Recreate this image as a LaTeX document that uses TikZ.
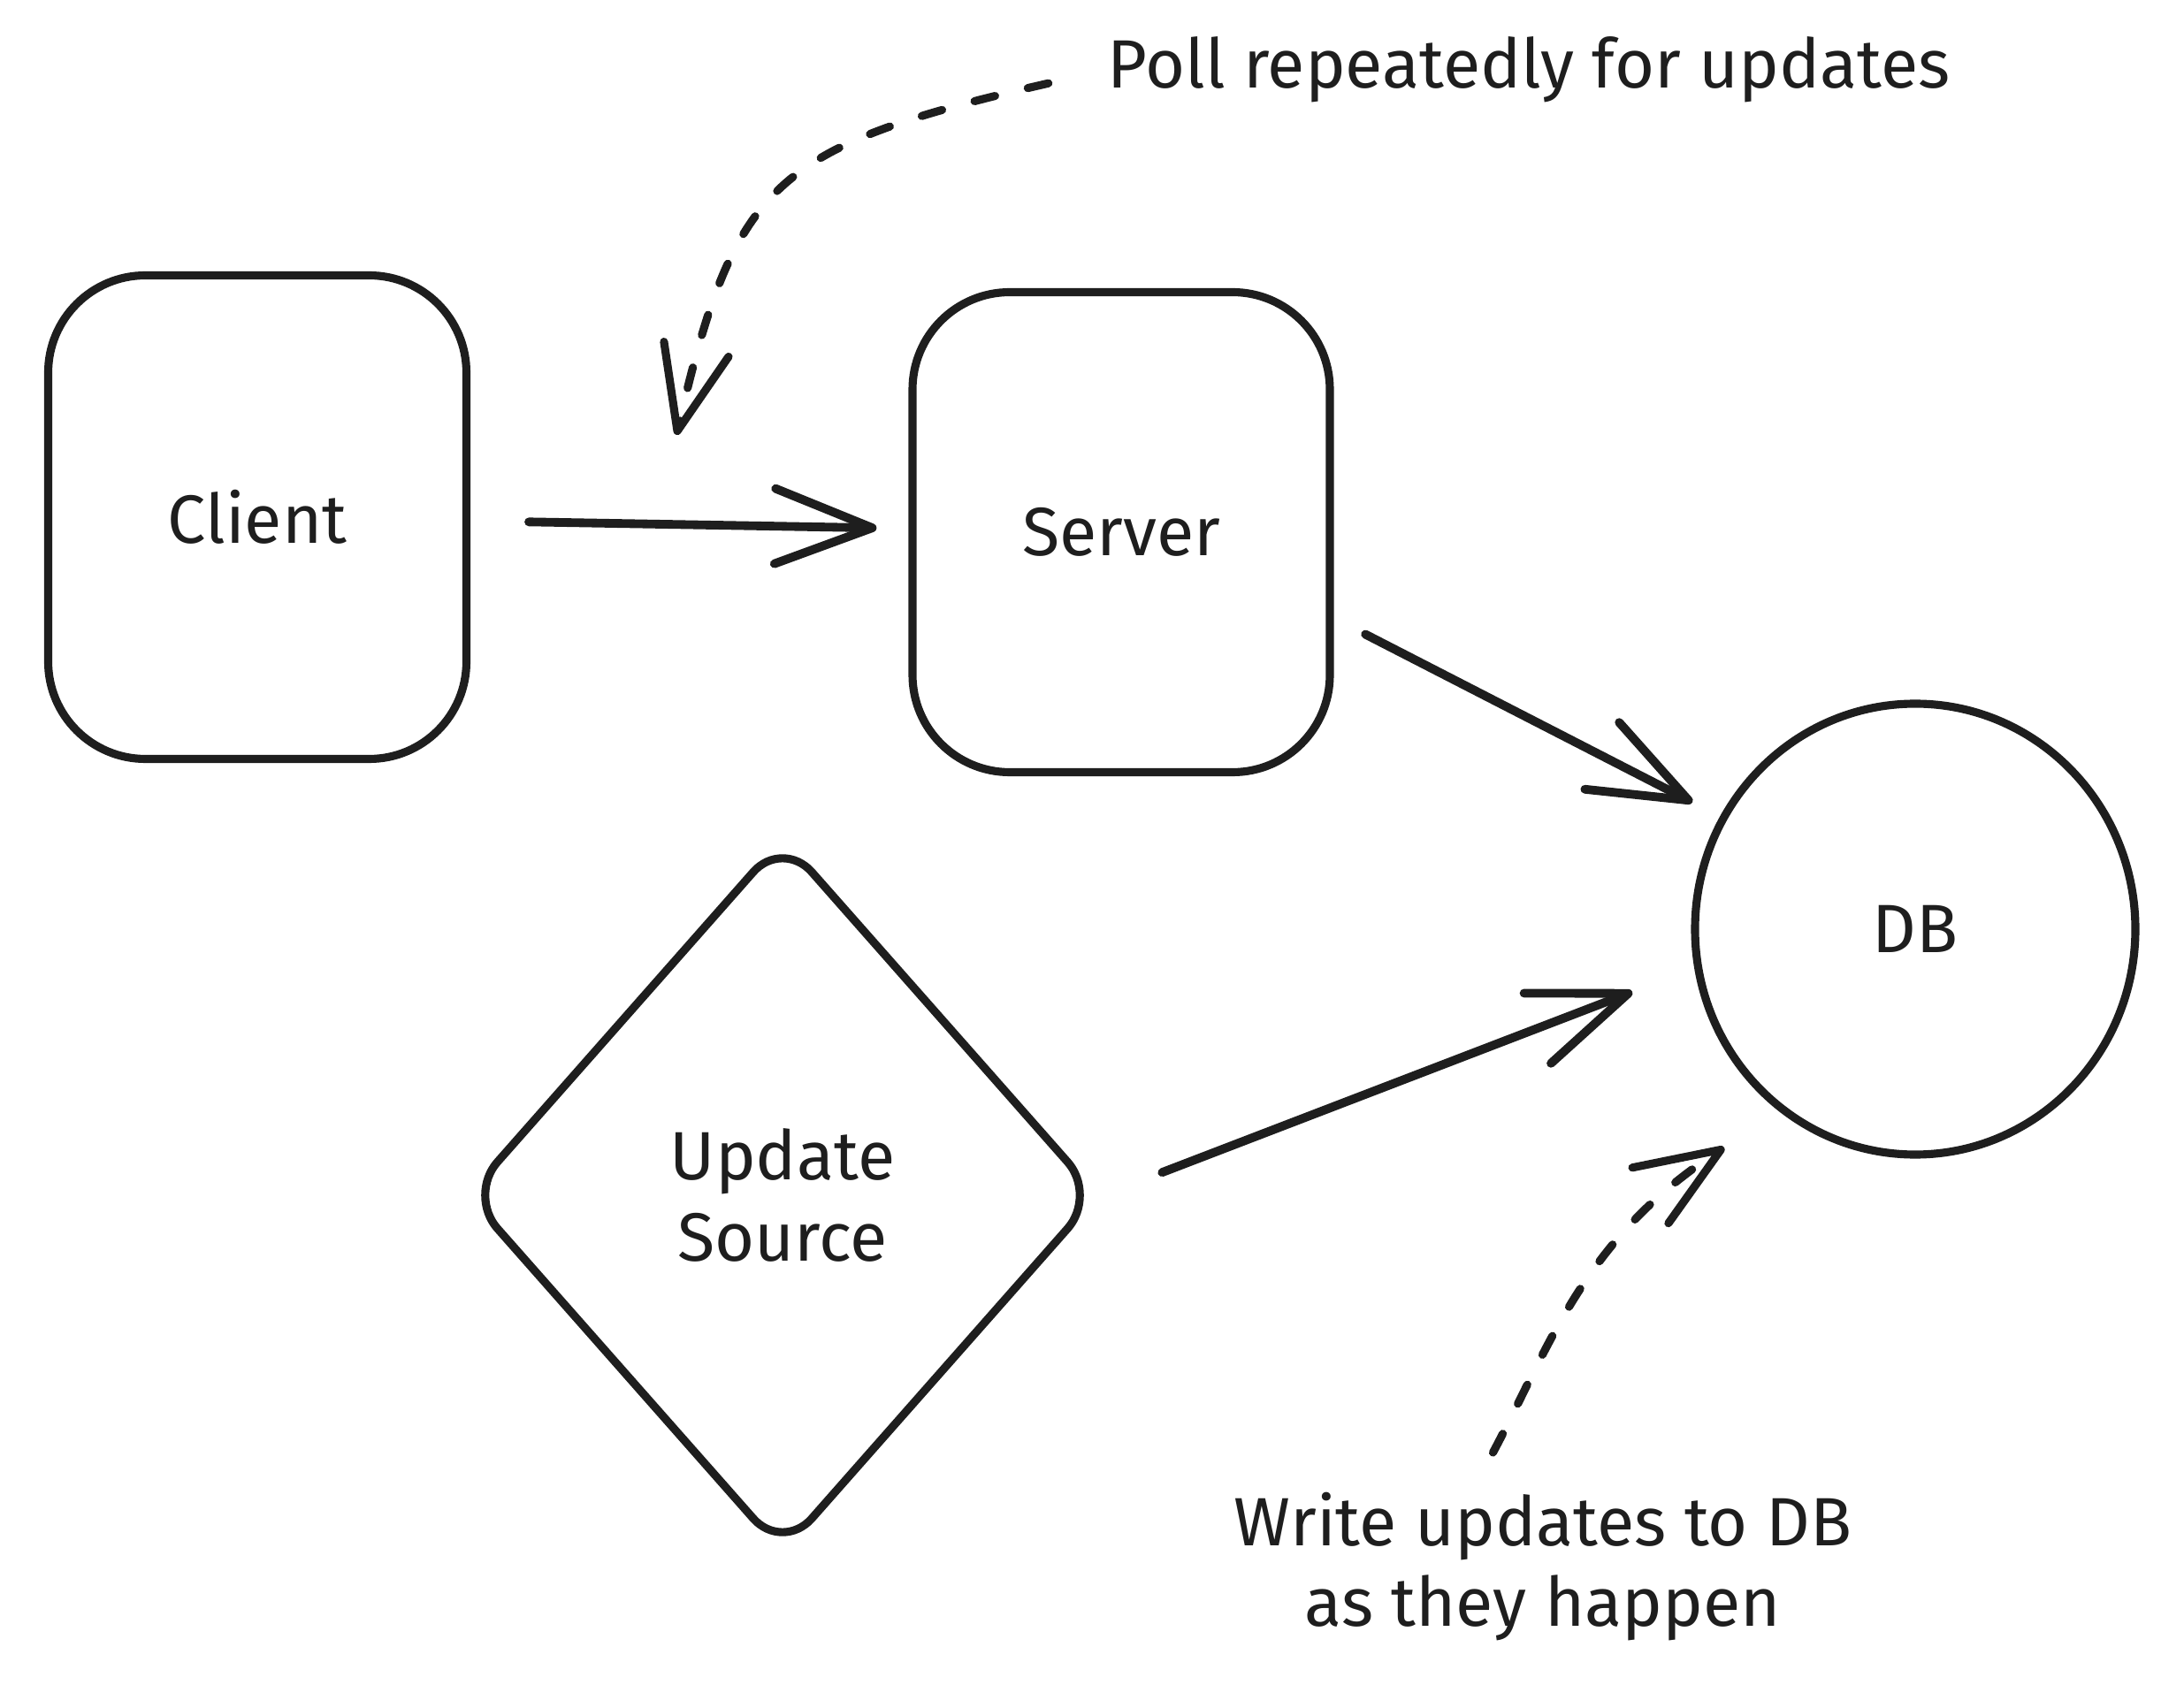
\documentclass[tikz,border=0pt]{standalone}
\usepackage{fontspec}
\setmainfont{Fira Sans}
\usetikzlibrary{arrows.meta,shapes.geometric}
\definecolor{ink}{HTML}{1E1E1E}

\tikzset{
  hand/.style={text=ink, font=\fontsize{22}{26}\selectfont, inner sep=0pt, align=center},
  box/.style={hand, draw=ink, line width=2.6pt, rounded corners=1.1cm,
    minimum width=4.73cm, minimum height=5.47cm},
  flow/.style={draw=ink, line width=2.8pt, line cap=round,
    -{Straight Barb[length=11mm,width=8.5mm,round]}},
  note/.style={draw=ink, line width=2.6pt, line cap=round,
    dash pattern=on 0.24cm off 0.38cm,
    -{Straight Barb[length=9.5mm,width=7.5mm,round]}},
}

\begin{document}
\begin{tikzpicture}
	\useasboundingbox (0,0) rectangle (24.70,-19.06);

            \node[box] (client) at (2.91,-5.85) {Client};
            \node[box, minimum width=4.72cm, minimum height=5.43cm] (server) at (12.68,-6.02) {Server};
            \node[hand, draw=ink, line width=2.6pt, ellipse, minimum width=4.98cm, minimum height=5.10cm] (db) at (21.66,-10.51) {DB};
            \node[hand, draw=ink, line width=2.6pt, diamond, rounded corners=0.5cm,
              minimum width=7.15cm, minimum height=8.1cm] (source) at (8.85,-13.52) {Update\\Source};

            \draw[flow, shorten <=0.66cm, shorten >=0.36cm] (client) -- (server);
            \draw[flow, shorten <=0.4cm, shorten >=0.35cm] (server.-22.5) -- (db.150);
            \draw[flow, shorten <=0.72cm, shorten >=0.75cm] (source.east) -- (db.190);

            % side notes
            \node[hand, anchor=west] (poll) at (12.52,-0.79) {Poll repeatedly for updates};
            \node[hand] (write) at (17.45,-17.72) {Write updates to DB\\as they happen};

            \coordinate (polltip) at (7.65,-4.92);
            \coordinate (writetip) at (19.50,-12.98);

            \draw[note, shorten <=0.68cm] (poll.west) .. controls (8.73,-1.66) and (8.31,-2.07) .. (polltip);
            \draw[note, shorten <=0.5cm] ([xshift=-8mm]write.north) to[out=62, in=213] (writetip);
        \end{tikzpicture}
\end{document}
